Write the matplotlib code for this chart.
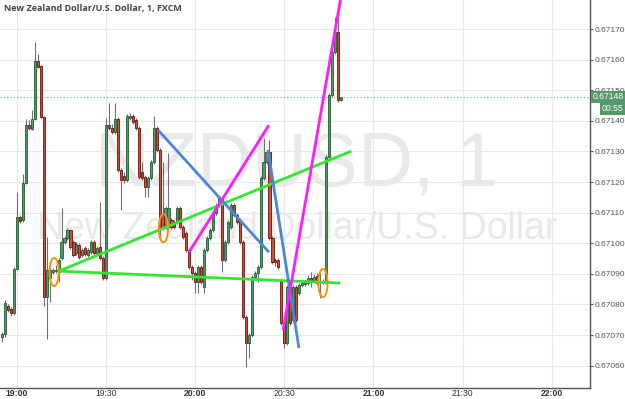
import numpy as np
import matplotlib
matplotlib.use("Agg")
import matplotlib.pyplot as plt
import matplotlib.transforms as mtransforms
from matplotlib.patches import Ellipse

# 1-minute NZDUSD candles, minutes after 19:00
minutes = list(range(-5, 110))
opens = [0.670693, 0.670703, 0.670795, 0.670785, 0.670772, 0.670916, 0.671086, 0.671076, 0.671197, 0.671386,
         0.671373, 0.671406, 0.671595, 0.671579, 0.671412, 0.670824, 0.670886, 0.670906, 0.670909, 0.670906,
         0.670952, 0.671004, 0.671017, 0.671043, 0.671004, 0.670968, 0.670994, 0.670961, 0.670984, 0.670961,
         0.670971, 0.671004, 0.670968, 0.670988, 0.670952, 0.670886, 0.671386, 0.671376, 0.671363, 0.671406,
         0.671239, 0.671220, 0.671207, 0.671409, 0.671416, 0.671403, 0.671376, 0.671233, 0.671216, 0.671184,
         0.671213, 0.671265, 0.671376, 0.671305, 0.671092, 0.671053, 0.671053, 0.671076, 0.671069, 0.671069,
         0.671115, 0.671053, 0.671033, 0.670978, 0.670922, 0.670903, 0.670873, 0.670922, 0.670857, 0.670978,
         0.671017, 0.671043, 0.671099, 0.671125, 0.671148, 0.670945, 0.671004, 0.671053, 0.671125, 0.671092,
         0.671076, 0.671004, 0.670759, 0.670674, 0.670700, 0.670890, 0.670903, 0.670922, 0.671213, 0.671265,
         0.671298, 0.671017, 0.670945, 0.670945, 0.670880, 0.670739, 0.670674, 0.670857, 0.670749, 0.670857,
         0.670837, 0.670863, 0.670867, 0.670870, 0.670886, 0.670880, 0.670893, 0.670873, 0.670873, 0.670873,
         0.671282, 0.671484, 0.671625, 0.671690, 0.671468]
highs = [0.670710, 0.670814, 0.670801, 0.670792, 0.670922, 0.671167, 0.671092, 0.671226, 0.671406, 0.671403,
         0.671435, 0.671658, 0.671618, 0.671582, 0.671416, 0.671020, 0.670919, 0.670919, 0.670929, 0.670952,
         0.671115, 0.671024, 0.671050, 0.671046, 0.671010, 0.671004, 0.671001, 0.670984, 0.670991, 0.670984,
         0.671010, 0.671010, 0.670991, 0.671135, 0.670958, 0.671409, 0.671458, 0.671390, 0.671458, 0.671412,
         0.671246, 0.671233, 0.671422, 0.671425, 0.671422, 0.671409, 0.671383, 0.671265, 0.671223, 0.671220,
         0.671272, 0.671416, 0.671383, 0.671311, 0.671265, 0.671122, 0.671295, 0.671082, 0.671076, 0.671122,
         0.671122, 0.671060, 0.671040, 0.670984, 0.670929, 0.670909, 0.670929, 0.670929, 0.670984, 0.671024,
         0.671050, 0.671105, 0.671131, 0.671154, 0.671154, 0.671010, 0.671076, 0.671131, 0.671131, 0.671099,
         0.671082, 0.671010, 0.670765, 0.670707, 0.670896, 0.670909, 0.670929, 0.671220, 0.671344, 0.671305,
         0.671337, 0.671024, 0.670952, 0.670952, 0.670886, 0.670746, 0.670863, 0.670863, 0.670863, 0.670863,
         0.670870, 0.670876, 0.670880, 0.670896, 0.670906, 0.670899, 0.670903, 0.670903, 0.670883, 0.671288,
         0.671491, 0.671631, 0.671739, 0.671739, 0.671478]
lows = [0.670677, 0.670693, 0.670775, 0.670762, 0.670765, 0.670912, 0.671066, 0.671069, 0.671194, 0.671370,
        0.671370, 0.671403, 0.671573, 0.671409, 0.670795, 0.670687, 0.670808, 0.670899, 0.670903, 0.670873,
        0.670945, 0.670997, 0.671010, 0.670981, 0.670955, 0.670961, 0.670948, 0.670955, 0.670958, 0.670955,
        0.670965, 0.670961, 0.670961, 0.670945, 0.670880, 0.670880, 0.671370, 0.671357, 0.671357, 0.671233,
        0.671109, 0.671197, 0.671200, 0.671403, 0.671390, 0.671370, 0.671210, 0.671207, 0.671151, 0.671151,
        0.671207, 0.671259, 0.671298, 0.671017, 0.671043, 0.671046, 0.671046, 0.671046, 0.671046, 0.671063,
        0.671046, 0.671014, 0.670971, 0.670916, 0.670880, 0.670837, 0.670837, 0.670867, 0.670837, 0.670971,
        0.671010, 0.671037, 0.671092, 0.671118, 0.670906, 0.670939, 0.670997, 0.671046, 0.671086, 0.671063,
        0.670997, 0.670752, 0.670595, 0.670625, 0.670693, 0.670883, 0.670873, 0.670916, 0.671207, 0.671259,
        0.671010, 0.670932, 0.670926, 0.670916, 0.670733, 0.670658, 0.670667, 0.670733, 0.670743, 0.670743,
        0.670831, 0.670857, 0.670860, 0.670863, 0.670857, 0.670873, 0.670863, 0.670821, 0.670867, 0.670867,
        0.671275, 0.671478, 0.671618, 0.671461, 0.671465]
closes = [0.670703, 0.670805, 0.670782, 0.670772, 0.670916, 0.671086, 0.671073, 0.671197, 0.671386, 0.671376,
          0.671406, 0.671595, 0.671576, 0.671412, 0.670824, 0.670912, 0.670912, 0.670912, 0.670912, 0.670945,
          0.671004, 0.671017, 0.671043, 0.670988, 0.670961, 0.670997, 0.670955, 0.670978, 0.670965, 0.670978,
          0.671004, 0.670968, 0.670984, 0.670952, 0.670886, 0.671386, 0.671376, 0.671363, 0.671406, 0.671239,
          0.671207, 0.671207, 0.671416, 0.671416, 0.671396, 0.671376, 0.671216, 0.671213, 0.671184, 0.671213,
          0.671265, 0.671376, 0.671305, 0.671050, 0.671050, 0.671115, 0.671115, 0.671053, 0.671053, 0.671115,
          0.671053, 0.671020, 0.670978, 0.670922, 0.670903, 0.670873, 0.670922, 0.670873, 0.670978, 0.671017,
          0.671043, 0.671099, 0.671125, 0.671148, 0.670945, 0.671004, 0.671069, 0.671125, 0.671092, 0.671069,
          0.671004, 0.670759, 0.670674, 0.670700, 0.670890, 0.670903, 0.670922, 0.671213, 0.671265, 0.671298,
          0.671017, 0.670939, 0.670939, 0.670922, 0.670739, 0.670674, 0.670857, 0.670739, 0.670857, 0.670749,
          0.670863, 0.670870, 0.670873, 0.670886, 0.670876, 0.670890, 0.670870, 0.670876, 0.670876, 0.671282,
          0.671484, 0.671625, 0.671690, 0.671468, 0.671478]

# hand drawn trend lines: (minute, price) end points
green_up = [(14.1, 0.670909), (112.5, 0.671301)]
green_low = [(14.1, 0.670909), (108.8, 0.670870)]
blue_1 = [(47.5, 0.671370), (84.8, 0.670971)]
blue_2 = [(84.5, 0.671305), (94.9, 0.670658)]
magenta_1 = [(57.9, 0.670971), (84.8, 0.671386)]
magenta_2 = [(89.6, 0.670716), (109.5, 0.671830)]
circles = [(12.5, 0.670906), (49.3, 0.671049), (103.0, 0.670870)]

price_ticks = [0.67060, 0.67070, 0.67080, 0.67090, 0.67100, 0.67110,
               0.67120, 0.67130, 0.67140, 0.67150, 0.67160, 0.67170]
time_ticks = [0, 30, 60, 90, 120, 150, 180]
time_labels = ["19:00", "19:30", "20:00", "20:30", "21:00", "21:30", "22:00"]

fig = plt.figure(figsize=(6.25, 3.99), dpi=100)
ax = fig.add_axes([0, 11 / 399, 590 / 625, 388 / 399])
ax.set_xlim(-5.72, 192.9)
ax.set_ylim(0.670527, 0.671795)

# watermark
ax.text(0.503, 0.573, "NZDUSD, 1", transform=ax.transAxes, ha="center", va="center",
        fontsize=55, color="#e9e9e9", family="Liberation Sans", zorder=0)
ax.text(0.503, 0.41, "New Zealand Dollar/U.S. Dollar", transform=ax.transAxes, ha="center",
        va="center", fontsize=27, color="#e9e9e9", family="Liberation Sans", zorder=0)

t = np.array(minutes)
o = np.array(opens)
h = np.array(highs)
l = np.array(lows)
c = np.array(closes)
up = c >= o
body_lo = np.minimum(o, c)
body_h = np.maximum(np.abs(c - o), 0.0000015)

ax.vlines(t, l, h, color="#707070", lw=0.8, zorder=2)
ax.bar(t[up], body_h[up], bottom=body_lo[up], width=0.72, color="#57976d",
       edgecolor="#1f5c33", lw=0.6, zorder=3)
ax.bar(t[~up], body_h[~up], bottom=body_lo[~up], width=0.72, color="#c9503a",
       edgecolor="#6e1208", lw=0.6, zorder=3)

for pts, col in [(green_up, "#33e633"), (green_low, "#33e633"), (blue_1, "#4a86e0"),
                 (blue_2, "#4a86e0"), (magenta_1, "#ff1aff"), (magenta_2, "#ff1aff")]:
    xs, ys = zip(*pts)
    ax.plot(xs, ys, color=col, lw=2, solid_capstyle="butt", zorder=4)

for cx, cy in circles:
    ax.add_patch(Ellipse((cx, cy), 3.1, 0.000092, fill=False, ec="#f2940f", lw=1.4, zorder=5))

# current price line and labels
last = closes[-1]
ax.axhline(last, color="#6aa7a0", lw=0.8, ls=(0, (1, 2)), zorder=1)
trans = mtransforms.blended_transform_factory(ax.transAxes, ax.transData)
right_edge = 623.5 / 590
ax.text(right_edge, last, "0.67148", transform=trans, ha="right", va="center", fontsize=6.2,
        color="white", family="Liberation Sans", zorder=10, clip_on=False,
        bbox=dict(boxstyle="square,pad=0.2", fc="#55996a", ec="none"))
ax.text(right_edge, last - 0.000037, "00:55", transform=trans, ha="right", va="center",
        fontsize=6.2, color="white", family="Liberation Sans", zorder=10, clip_on=False,
        bbox=dict(boxstyle="square,pad=0.2", fc="#55996a", ec="none"))

ax.text(0.006, 0.977, "New Zealand Dollar/U.S. Dollar, 1, FXCM", transform=ax.transAxes,
        ha="left", va="center", fontsize=6.5, color="#444444", family="Open Sans",
        fontweight="bold", zorder=10)

ax.yaxis.tick_right()
ax.set_yticks(price_ticks)
ax.set_yticklabels([f"{p:.5f}" for p in price_ticks])
ax.set_xticks(time_ticks)
ax.set_xticklabels(time_labels)
ax.tick_params(axis="y", length=2.5, width=0.8, color="#555555", pad=1, labelsize=6.0,
               labelcolor="#555555")
ax.tick_params(axis="x", length=0, pad=1, labelsize=6.2, labelcolor="#333333")
for lab in ax.get_xticklabels():
    lab.set_family("Liberation Sans")
    if lab.get_text().endswith(":00"):
        lab.set_fontweight("bold")
for lab in ax.get_yticklabels():
    lab.set_family("Liberation Sans")

ax.grid(True, color="#e8e8e8", lw=0.8, zorder=0)
ax.set_axisbelow(True)
for side in ["top", "left"]:
    ax.spines[side].set_visible(False)
for side in ["right", "bottom"]:
    ax.spines[side].set_color("#555555")
    ax.spines[side].set_linewidth(1)

fig.savefig("out.png", dpi=100)
